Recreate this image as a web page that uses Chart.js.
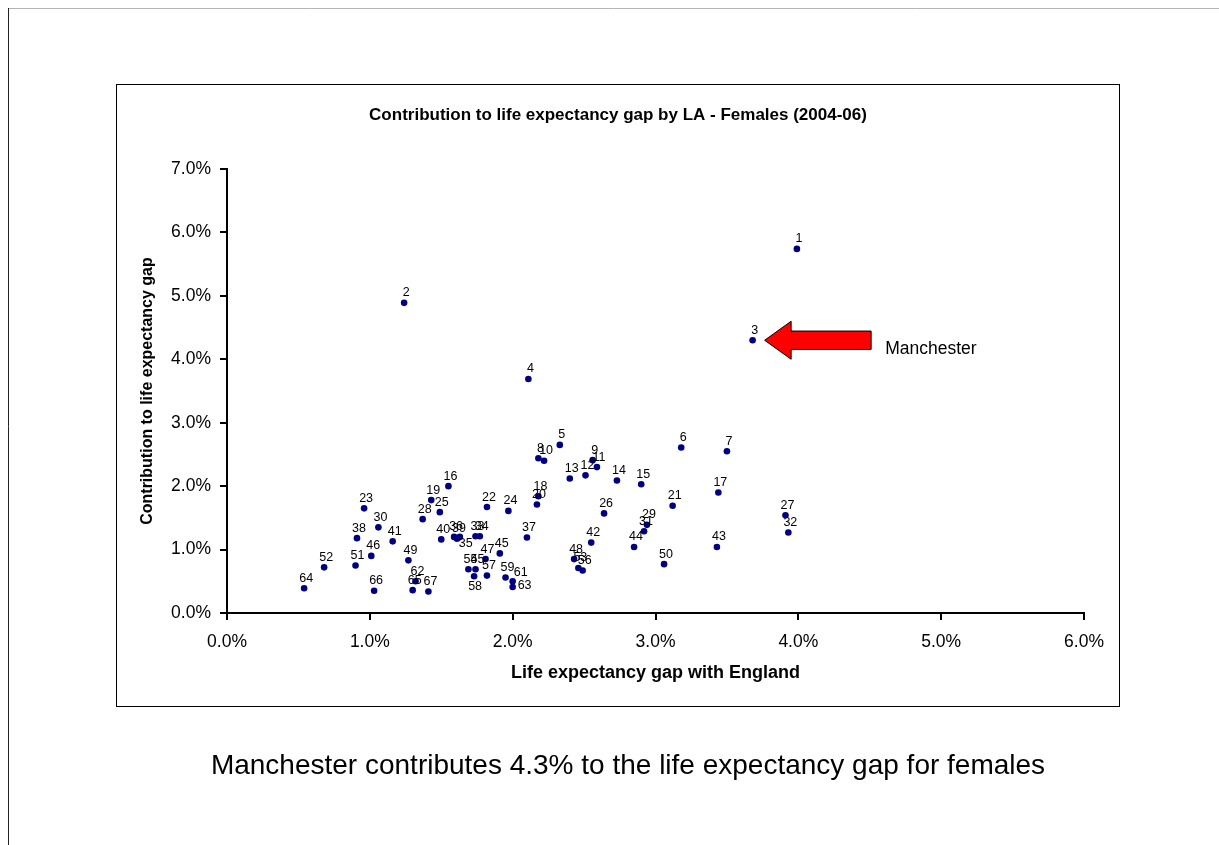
<!DOCTYPE html>
<html>
<head>
<meta charset="utf-8">
<script src="https://cdn.jsdelivr.net/npm/chart.js@4/dist/chart.umd.min.js"></script>
<style>
  html, body { margin: 0; padding: 0; background: #fff; }
  canvas { display: block; }
</style>
</head>
<body>
<canvas id="chart" width="1219" height="845"></canvas>
<script>
// Local authorities, numbered by rank of contribution
const laIds = [1, 2, 3, 4, 5, 6, 7, 8, 9, 10, 11, 12, 13, 14, 15, 16, 17, 18, 19, 20,
  21, 22, 23, 24, 25, 26, 27, 28, 29, 30, 31, 32, 33, 34, 35, 36, 37, 38, 39, 40,
  41, 42, 43, 44, 45, 46, 47, 48, 49, 50, 51, 52, 53, 54, 55, 56, 57, 58, 59,
  61, 62, 63, 64, 65, 66, 67];

// Life expectancy gap with England (%)
const gapWithEngland = [3.99, 1.24, 3.68, 2.11, 2.33, 3.18, 3.50, 2.18, 2.56, 2.22,
  2.59, 2.51, 2.40, 2.73, 2.90, 1.55, 3.44, 2.18, 1.43, 2.17,
  3.12, 1.82, 0.96, 1.97, 1.49, 2.64, 3.91, 1.37, 2.94, 1.06,
  2.92, 3.93, 1.74, 1.77, 1.63, 1.59, 2.10, 0.91, 1.61, 1.50,
  1.16, 2.55, 3.43, 2.85, 1.91, 1.01, 1.81, 2.43, 1.27, 3.06,
  0.90, 0.68, 2.46, 1.69, 1.74, 2.49, 1.82, 1.73, 1.95,
  2.00, 1.32, 2.00, 0.54, 1.30, 1.03, 1.41];

// Contribution to the life expectancy gap (%)
const contributionToGap = [5.74, 4.89, 4.30, 3.69, 2.65, 2.61, 2.55, 2.44, 2.41, 2.40,
  2.30, 2.17, 2.12, 2.09, 2.03, 2.00, 1.90, 1.84, 1.78, 1.71,
  1.69, 1.67, 1.65, 1.61, 1.59, 1.57, 1.54, 1.48, 1.39, 1.35,
  1.29, 1.27, 1.21, 1.21, 1.20, 1.20, 1.19, 1.18, 1.17, 1.16,
  1.13, 1.11, 1.04, 1.04, 0.94, 0.90, 0.85, 0.85, 0.83, 0.77,
  0.75, 0.72, 0.71, 0.69, 0.69, 0.67, 0.59, 0.58, 0.56,
  0.50, 0.50, 0.41, 0.39, 0.36, 0.35, 0.34];

const xTickLabels = ['0.0%', '1.0%', '2.0%', '3.0%', '4.0%', '5.0%', '6.0%'];
const yTickLabels = ['0.0%', '1.0%', '2.0%', '3.0%', '4.0%', '5.0%', '6.0%', '7.0%'];

const chartTitle = 'Contribution to life expectancy gap by LA - Females (2004-06)';
const xAxisTitle = 'Life expectancy gap with England';
const yAxisTitle = 'Contribution to life expectancy gap';
const highlightId = 3;
const highlightName = 'Manchester';

// Labels that sit somewhere other than above their point
const labelSide = { 35: 'belowRight', 58: 'below', 61: 'aboveRight', 63: 'right' };

const FONT = "'Liberation Sans', Arial, Helvetica, sans-serif";
const hiIndex = laIds.indexOf(highlightId);
const captionText = highlightName + ' contributes ' +
  contributionToGap[hiIndex].toFixed(1) + '% to the life expectancy gap for females';

const points = laIds.map((id, i) => ({ x: gapWithEngland[i], y: contributionToGap[i], id }));

const decorations = {
  id: 'decorations',
  beforeDraw(chart) {
    const ctx = chart.ctx;
    ctx.save();
    ctx.fillStyle = '#fff';
    ctx.fillRect(0, 0, chart.width, chart.height);
    // page edges
    ctx.lineWidth = 1;
    ctx.strokeStyle = '#b4b4b4';
    ctx.beginPath(); ctx.moveTo(8, 8.5); ctx.lineTo(chart.width, 8.5); ctx.stroke();
    ctx.strokeStyle = '#222';
    ctx.beginPath(); ctx.moveTo(8.5, 8); ctx.lineTo(8.5, chart.height); ctx.stroke();
    // chart frame
    ctx.strokeStyle = '#000';
    ctx.strokeRect(116.5, 84.5, 1003, 622);
    // chart title
    ctx.fillStyle = '#000';
    ctx.font = 'bold 17px ' + FONT;
    ctx.textAlign = 'center';
    ctx.textBaseline = 'middle';
    ctx.fillText(chartTitle, 618, 115);
    ctx.restore();
  },
  afterDatasetsDraw(chart) {
    const ctx = chart.ctx;
    const meta = chart.getDatasetMeta(0);
    ctx.save();
    ctx.fillStyle = '#000';
    ctx.font = '12.5px ' + FONT;
    ctx.textBaseline = 'middle';
    meta.data.forEach((el, i) => {
      const id = points[i].id;
      const side = labelSide[id] || 'above';
      let dx = 2, dy = -10, align = 'center';
      if (side === 'below') { dx = 1; dy = 10; }
      else if (side === 'belowRight') { dx = 6; dy = 7; }
      else if (side === 'aboveRight') { dx = 8; dy = -9; }
      else if (side === 'right') { dx = 5; dy = -1; align = 'left'; }
      ctx.textAlign = align;
      ctx.fillText(String(id), el.x + dx, el.y + dy);
    });
    ctx.restore();
  },
  afterDraw(chart) {
    const ctx = chart.ctx;
    const xs = chart.scales.x, ys = chart.scales.y;
    const px = xs.getPixelForValue(gapWithEngland[hiIndex]);
    const py = ys.getPixelForValue(contributionToGap[hiIndex]);
    // arrow pointing at the highlighted authority
    const tipX = px + 12, tipY = py;
    const headLen = 26.5, headHalf = 19, shaftHalf = 9.2, totalLen = 106.5;
    ctx.save();
    ctx.beginPath();
    ctx.moveTo(tipX, tipY);
    ctx.lineTo(tipX + headLen, tipY - headHalf);
    ctx.lineTo(tipX + headLen, tipY - shaftHalf);
    ctx.lineTo(tipX + totalLen, tipY - shaftHalf);
    ctx.lineTo(tipX + totalLen, tipY + shaftHalf);
    ctx.lineTo(tipX + headLen, tipY + shaftHalf);
    ctx.lineTo(tipX + headLen, tipY + headHalf);
    ctx.closePath();
    ctx.fillStyle = '#ff0000';
    ctx.fill();
    ctx.lineWidth = 1;
    ctx.strokeStyle = '#000';
    ctx.stroke();
    // name beside the arrow
    ctx.fillStyle = '#000';
    ctx.font = '17.5px ' + FONT;
    ctx.textAlign = 'left';
    ctx.textBaseline = 'alphabetic';
    ctx.fillText(highlightName, tipX + totalLen + 14, tipY + 14);
    // caption under the chart
    ctx.font = '28px ' + FONT;
    ctx.textAlign = 'center';
    ctx.textBaseline = 'middle';
    ctx.fillText(captionText, 628, 766);
    ctx.restore();
  }
};

new Chart(document.getElementById('chart'), {
  type: 'scatter',
  data: {
    datasets: [{
      data: points,
      backgroundColor: '#000080',
      borderColor: '#000080',
      pointRadius: 3.3,
      pointHoverRadius: 3.3,
      borderWidth: 0
    }]
  },
  options: {
    responsive: false,
    animation: false,
    events: [],
    layout: { padding: { left: 0, right: 135, top: 169, bottom: 0 } },
    plugins: {
      legend: { display: false },
      title: { display: false },
      tooltip: { enabled: false }
    },
    scales: {
      x: {
        type: 'linear',
        min: 0, max: 6,
        afterFit(scale) { scale.height = 232; },
        ticks: {
          stepSize: 1,
          color: '#000',
          font: { family: FONT, size: 17.5 },
          padding: 12,
          callback: (v, i) => xTickLabels[i]
        },
        grid: { drawOnChartArea: false, drawTicks: true, tickLength: 7, color: '#000', lineWidth: 2 },
        border: { display: true, color: '#000', width: 2 },
        title: {
          display: true, text: xAxisTitle, color: '#000',
          font: { family: FONT, size: 18, weight: 'bold' },
          padding: { top: 0, bottom: 161 }
        }
      },
      y: {
        type: 'linear',
        min: 0, max: 7,
        afterFit(scale) { scale.width = 227; },
        ticks: {
          stepSize: 1,
          color: '#000',
          font: { family: FONT, size: 17.5 },
          padding: 9,
          callback: (v, i) => yTickLabels[i]
        },
        grid: { drawOnChartArea: false, drawTicks: true, tickLength: 7, color: '#000', lineWidth: 2 },
        border: { display: true, color: '#000', width: 2 },
        title: {
          display: true, text: yAxisTitle, color: '#000',
          font: { family: FONT, size: 16, weight: 'bold' },
          padding: { top: 138, bottom: 0 }
        }
      }
    }
  },
  plugins: [decorations]
});
</script>
</body>
</html>
